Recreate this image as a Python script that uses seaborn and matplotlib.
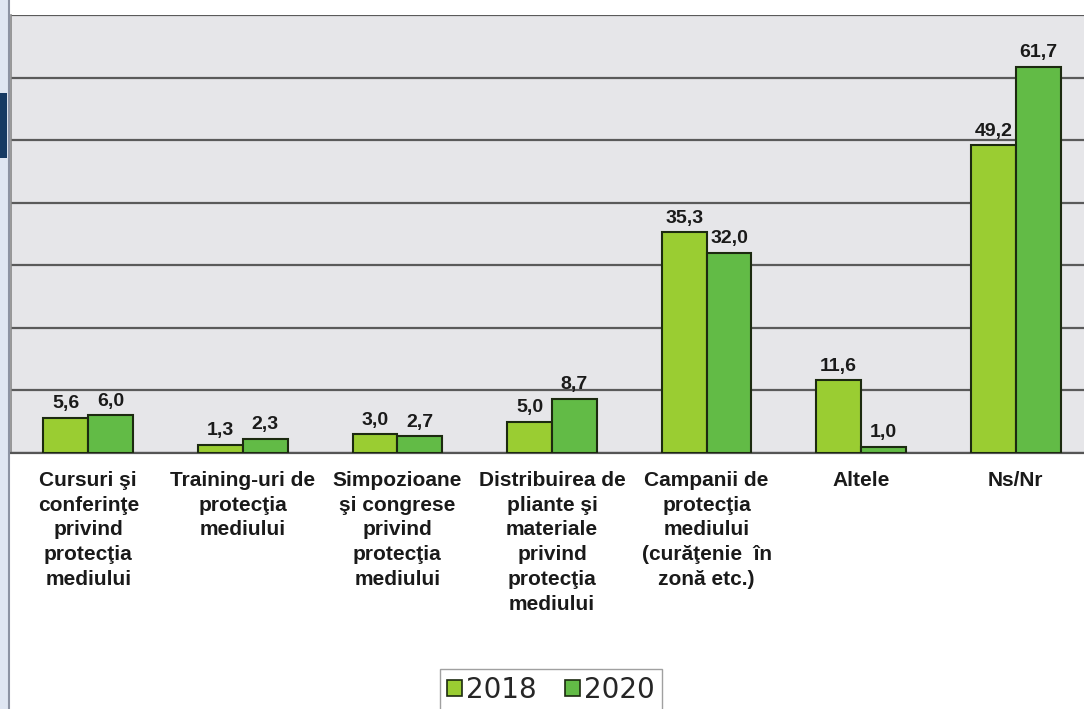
import matplotlib
matplotlib.use('Agg')
import matplotlib.pyplot as plt
from matplotlib.patches import Rectangle, Patch
import numpy as np
import pandas as pd
import seaborn as sns

categories = ['Cursuri şi\nconferinţe\nprivind\nprotecţia\nmediului',
              'Training-uri de\nprotecţia\nmediului',
              'Simpozioane\nşi congrese\nprivind\nprotecţia\nmediului',
              'Distribuirea de\npliante şi\nmateriale\nprivind\nprotecţia\nmediului',
              'Campanii de\nprotecţia\nmediului\n(curăţenie  în\nzonă etc.)',
              'Altele',
              'Ns/Nr']
years = ['2018', '2020']
values_2018 = [5.6, 1.3, 3.0, 5.0, 35.3, 11.6, 49.2]
values_2020 = [6.0, 2.3, 2.7, 8.7, 32.0, 1.0, 61.7]
colors = ['#9acd32', '#62bb46']

df = pd.DataFrame({
    'cat': categories * 2,
    'val': values_2018 + values_2020,
    'year': [years[0]] * len(categories) + [years[1]] * len(categories),
})

sns.set_style('white')
plt.rcParams['font.family'] = ['Liberation Sans', 'DejaVu Sans']

W, H = 1084, 709
fig = plt.figure(figsize=(W / 100, H / 100), dpi=100)

# left edge strip of the page
fig.patches.append(Rectangle((0, 0), 8 / W, 1, transform=fig.transFigure,
                             facecolor='#dfe6f2', edgecolor='none', zorder=0))
fig.patches.append(Rectangle((0, 1 - 158 / H), 7 / W, 65 / H, transform=fig.transFigure,
                             facecolor='#163a63', edgecolor='none', zorder=1))
fig.lines.append(plt.Line2D([8.5 / W, 8.5 / W], [0, 1], transform=fig.transFigure,
                            color='#8c93a3', lw=1.5))

ax = fig.add_axes([11 / W, (H - 453) / H, (1093 - 11) / W, (453 - 15) / H])
ax.set_facecolor('#e6e6e9')

sns.barplot(data=df, x='cat', y='val', hue='year', palette=colors, ax=ax, saturation=1,
            width=0.58, edgecolor='#1c2a10', linewidth=1.5, legend=False, zorder=3)

for cont in ax.containers:
    ax.bar_label(cont, labels=[f'{v:.1f}'.replace('.', ',') for v in cont.datavalues],
                 padding=4, fontsize=14, fontweight='bold', color='#1a1a1a')

ax.set_ylim(0, 70)
ax.set_xlim(-0.5, 6.5)
ax.set_yticks(np.arange(0, 71, 10))
ax.yaxis.grid(True, color='#5a5a5a', lw=1.6)
ax.set_axisbelow(True)
ax.tick_params(axis='y', left=False, labelleft=False)
ax.set_xlabel('')
ax.set_ylabel('')
ax.set_xticks(range(len(categories)))
ax.set_xticklabels(categories, fontsize=15, fontweight='bold', color='#1a1a1a',
                   linespacing=1.38, va='top')
ax.tick_params(axis='x', length=0, pad=13)
ax.set_xticks(np.arange(-0.5, 7, 1), minor=True)
ax.tick_params(axis='x', which='minor', length=6, width=1.2, color='#555555', direction='out')
for side in ['top', 'right']:
    ax.spines[side].set_visible(False)
ax.spines['bottom'].set_color('#555555')
ax.spines['bottom'].set_linewidth(1.6)
ax.spines['left'].set_color('#888888')
ax.spines['left'].set_linewidth(1.2)

handles = [Patch(facecolor=c, edgecolor='#1c2a10', linewidth=1.2) for c in colors]
fig.legend(handles, years, loc='upper center', bbox_to_anchor=(551 / W, 1 - 669 / H),
           ncol=2, frameon=True, fancybox=False, edgecolor='#888888',
           prop={'family': 'DejaVu Sans', 'size': 20}, handlelength=0.55, handleheight=0.55,
           handletextpad=0.15, columnspacing=1.0, borderpad=0.25, borderaxespad=0)

fig.savefig('out.png', dpi=100)
